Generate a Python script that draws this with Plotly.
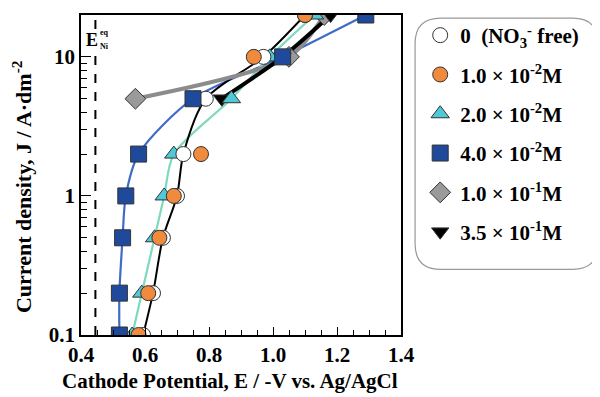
import plotly.graph_objects as go

# Data (potential in -V vs Ag/AgCl, current density in A/dm2)
J_levels = [0.1, 0.2, 0.5, 1, 2, 5, 10, 20]

E_free = [0.594, 0.625, 0.656, 0.70, 0.72, 0.79, 0.97, 1.10]
E_1e2 = [0.58, 0.61, 0.645, 0.69, 0.775, None, 0.94, 1.10]
E_2e2 = [0.56, 0.59, 0.63, 0.66, 0.69, 0.87, 0.99, 1.13]
E_4e2 = [0.52, 0.52, 0.53, 0.54, 0.58, 0.75, 1.03, 1.29]
J_high = [5, 10, 20]
E_1e1 = [0.57, 1.05, 1.16]
E_35e1 = [0.84, 1.03, 1.18]
E_eq = 0.445

names = ["<b>0  (NO<sub>3</sub><sup>-</sup> free)</b>", "<b>1.0 × 10<sup>-2</sup>M</b>", "<b>2.0 × 10<sup>-2</sup>M</b>",
         "<b>4.0 × 10<sup>-2</sup>M</b>", "<b>1.0 × 10<sup>-1</sup>M</b>", "<b>3.5 × 10<sup>-1</sup>M</b>"]

FONT = "Liberation Serif"
fig = go.Figure()

def add_line(x, y, color, width):
    fig.add_trace(go.Scatter(x=x, y=y, mode="lines", line=dict(color=color, width=width, shape="spline", smoothing=0.8),
                             showlegend=False, hoverinfo="skip"))

# lines
add_line(E_4e2, J_levels, "#3F6CC4", 2.2)
add_line(E_2e2, J_levels, "#7FD8C0", 2.2)
add_line(E_free, J_levels, "black", 2)
add_line(E_1e1, J_high, "#8C8C8C", 4)
add_line(E_35e1, J_high, "black", 4)

def add_pts(x, y, name, sym, fill, i, size=16):
    fig.add_trace(go.Scatter(x=x, y=y, mode="markers", name=name, legendgroup=str(i), legendrank=i + 1,
                             marker=dict(symbol=sym, size=size, color=fill, line=dict(color="#333333", width=1))))

add_pts(E_1e1, J_high, names[4], "diamond", "#9A9A9A", 4)
add_pts(E_35e1, J_high, names[5], "triangle-down", "black", 5, 15)
add_pts(E_2e2, J_levels, names[2], "triangle-up", "#4FC8D8", 2)
add_pts(E_free, J_levels, names[0], "circle", "white", 0, 15)
add_pts(E_1e2, J_levels, names[1], "circle", "#F08A3C", 1, 15)
add_pts(E_4e2, J_levels, names[3], "square", "#1F4A9C", 3, 16)

# dashed equilibrium line
fig.add_shape(type="line", x0=E_eq, x1=E_eq, y0=0, y1=1, xref="x", yref="paper",
              line=dict(color="black", width=2, dash="dash"))

fig.add_annotation(x=0.0, y=0.922, xref="paper", yref="paper", text="<b>E</b>", showarrow=False,
                   xanchor="left", yanchor="middle", font=dict(family=FONT, size=18, color="black"), xshift=4,
                   bgcolor="white", borderpad=0)
fig.add_annotation(x=0.0, y=0.944, xref="paper", yref="paper", text="<b>eq</b>", showarrow=False,
                   xanchor="left", yanchor="middle", font=dict(family=FONT, size=8, color="black"), xshift=17)
fig.add_annotation(x=0.0, y=0.903, xref="paper", yref="paper", text="<b>Ni</b>", showarrow=False,
                   xanchor="left", yanchor="middle", font=dict(family=FONT, size=8, color="black"), xshift=17)

# axis titles
fig.add_annotation(x=0.466, y=-0.145, xref="paper", yref="paper", showarrow=False,
                   text="<b>Cathode Potential, E / -V vs. Ag/AgCl</b>", xanchor="center", yanchor="middle",
                   font=dict(family=FONT, size=21, color="black"))
fig.add_annotation(x=-0.184, y=0.4625, xref="paper", yref="paper", showarrow=False, textangle=-90,
                   text="<b>Current density, J / A·dm<sup>-2</sup></b>", xanchor="center", yanchor="middle",
                   font=dict(family=FONT, size=22, color="black"))

# rounded legend frame
x0, x1, y0, y1, r = 1.044, 1.616, 0.205, 0.99, 0.08
ry = r * 320 / 320
path = (f"M {x0+r},{y1} L {x1-r},{y1} Q {x1},{y1} {x1},{y1-ry} L {x1},{y0+ry} Q {x1},{y0} {x1-r},{y0} "
        f"L {x0+r},{y0} Q {x0},{y0} {x0},{y0+ry} L {x0},{y1-ry} Q {x0},{y1} {x0+r},{y1} Z")
fig.add_shape(type="path", path=path, xref="paper", yref="paper", line=dict(color="#999999", width=1.2))

fig.update_layout(
    width=592, height=389,
    margin=dict(l=73, r=199, t=7, b=62),
    plot_bgcolor="white", paper_bgcolor="white",
    font=dict(family=FONT, size=19, color="black"),
    showlegend=True,
    legend=dict(x=1.06, y=1.0, xanchor="left", yanchor="top", bgcolor="rgba(0,0,0,0)",
                font=dict(family=FONT, size=21, color="black"), tracegroupgap=9,
                traceorder="grouped", itemwidth=30),
    xaxis=dict(range=[0.4, 1.4], tickvals=[0.4, 0.6, 0.8, 1.0, 1.2, 1.4],
               ticktext=["<b>0.4</b>", "<b>0.6</b>", "<b>0.8</b>", "<b>1.0</b>", "<b>1.2</b>", "<b>1.4</b>"],
               ticks="inside", ticklen=8, tickcolor="black", showline=True, linecolor="black", linewidth=1.5,
               mirror=True, showgrid=False, zeroline=False, automargin=False,
               minor=dict(dtick=0.05, ticks="inside", ticklen=5, tickcolor="black"),
               tickfont=dict(size=21)),
    yaxis=dict(type="log", range=[-1, 1.301], tickvals=[0.1, 1, 10],
               ticktext=["<b>0.1</b>", "<b>1</b>", "<b>10</b>"],
               ticks="inside", ticklen=10, tickcolor="black", showline=True, linecolor="black", linewidth=1.5,
               mirror=True, showgrid=False, zeroline=False, automargin=False,
               minor=dict(tickvals=[0.2,0.3,0.4,0.5,0.6,0.7,0.8,0.9,2,3,4,5,6,7,8,9,20], ticks="inside", ticklen=6, tickcolor="black"),
               tickfont=dict(size=21)),
)

fig.write_html("out.html")
